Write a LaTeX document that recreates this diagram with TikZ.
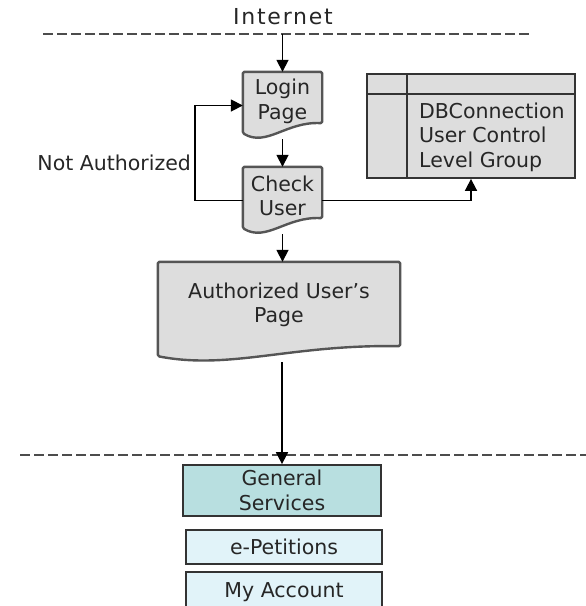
\documentclass[tikz,border=0pt]{standalone}
\usepackage{fontspec}
\setmainfont{DejaVu Sans}
\usetikzlibrary{arrows.meta,calc,backgrounds}
\definecolor{docgray}{HTML}{DDDDDD}
\definecolor{docedge}{HTML}{555555}
\definecolor{servteal}{HTML}{B8DFE0}
\definecolor{servlight}{HTML}{E1F3F9}
\tikzset{
  every node/.style={font=\fontsize{20.5}{24.5}\selectfont, inner sep=0pt, text=black!85},
  sepline/.style={draw=black!70, line width=1.6pt, dash pattern=on 10pt off 4pt},
  flow/.style={draw, line width=1.7pt, -{Triangle[width=12pt,length=12pt]}},
  docnode/.style={align=center},
  servbox/.style={draw=black!80, line width=1.8pt, align=center, minimum width=196pt},
}
\begin{document}
\begin{tikzpicture}[x=1pt,y=-1pt]
\clip (0,0) rectangle (586,606);
% separators
\coordinate (t1) at (43,34);
\coordinate (t2) at (530,34);
\coordinate (b1) at (20,455);
\coordinate (b2) at (586,455);
\path[sepline] (t1) -- (t2);
\path[sepline] (b1) -- (b2);
\node (inet) at (283,17) {\fontsize{22}{26}\selectfont\addfontfeature{LetterSpace=8}Internet};
\coordinate (inetin) at (282.5,34);
% pages
\node[docnode, minimum width=79pt, minimum height=67pt, text depth=13pt] (login) at (282.5,105.5) {Login\\Page};
\node[docnode, minimum width=79pt, minimum height=67pt, text depth=10pt] (check) at (282.5,200.5) {Check\\User};
\node[docnode, minimum width=242pt, minimum height=100pt, text depth=19pt] (auth) at (279,312) {Authorized User's\\Page};
\begin{pgfonlayer}{background}
\foreach \d in {login,check,auth}
  \path[draw=docedge, fill=docgray, line width=2.4pt, line join=round, rounded corners=1.5pt]
    (\d.north west) -- (\d.north east) -- ([yshift=16pt]\d.south east)
    .. controls ($(\d.south west)!0.55!(\d.south east)+(0,18pt)$)
    and ($(\d.south west)!0.3!(\d.south east)+(0,-8pt)$) .. ([yshift=6pt]\d.south west) -- cycle;
\end{pgfonlayer}
% database
\node[draw=black!80, fill=docgray, line width=1.8pt, minimum width=208pt, minimum height=104pt] (db) at (471,126) {};
\coordinate (dbrow) at (0,94);
\coordinate (dbcol) at (407,0);
\path[draw=black!80, line width=1.8pt] (db.west |- dbrow) -- (db.east |- dbrow);
\path[draw=black!80, line width=1.8pt] (dbcol |- db.north) -- (dbcol |- db.south);
\node[align=left, anchor=west] (dbtext) at (419,137) {DBConnection\\User Control\\Level Group};
% services
\node[servbox, fill=servteal, minimum width=198pt, minimum height=51pt] (gen) at (282,490.5) {General\\Services};
\node[servbox, fill=servlight, minimum height=34pt] (petit) at (284,547) {e-Petitions};
\node[servbox, fill=servlight, minimum height=40pt] (acct) at (284,592) {My Account};
% connectors
\path[flow] (inetin) -- (login.north);
\path[flow] (login.south) -- (check.north);
\path[flow] (check.west) -- ++(-48,0) |- node[pos=0.2, left, xshift=-3pt] {Not Authorized} (login.west);
\path[flow] (check.east) -| (db.south);
\path[flow] (check.south) -- (check.south |- auth.north);
\path[flow] (gen.north |- auth.south) -- (gen.north);
\end{tikzpicture}
\end{document}
